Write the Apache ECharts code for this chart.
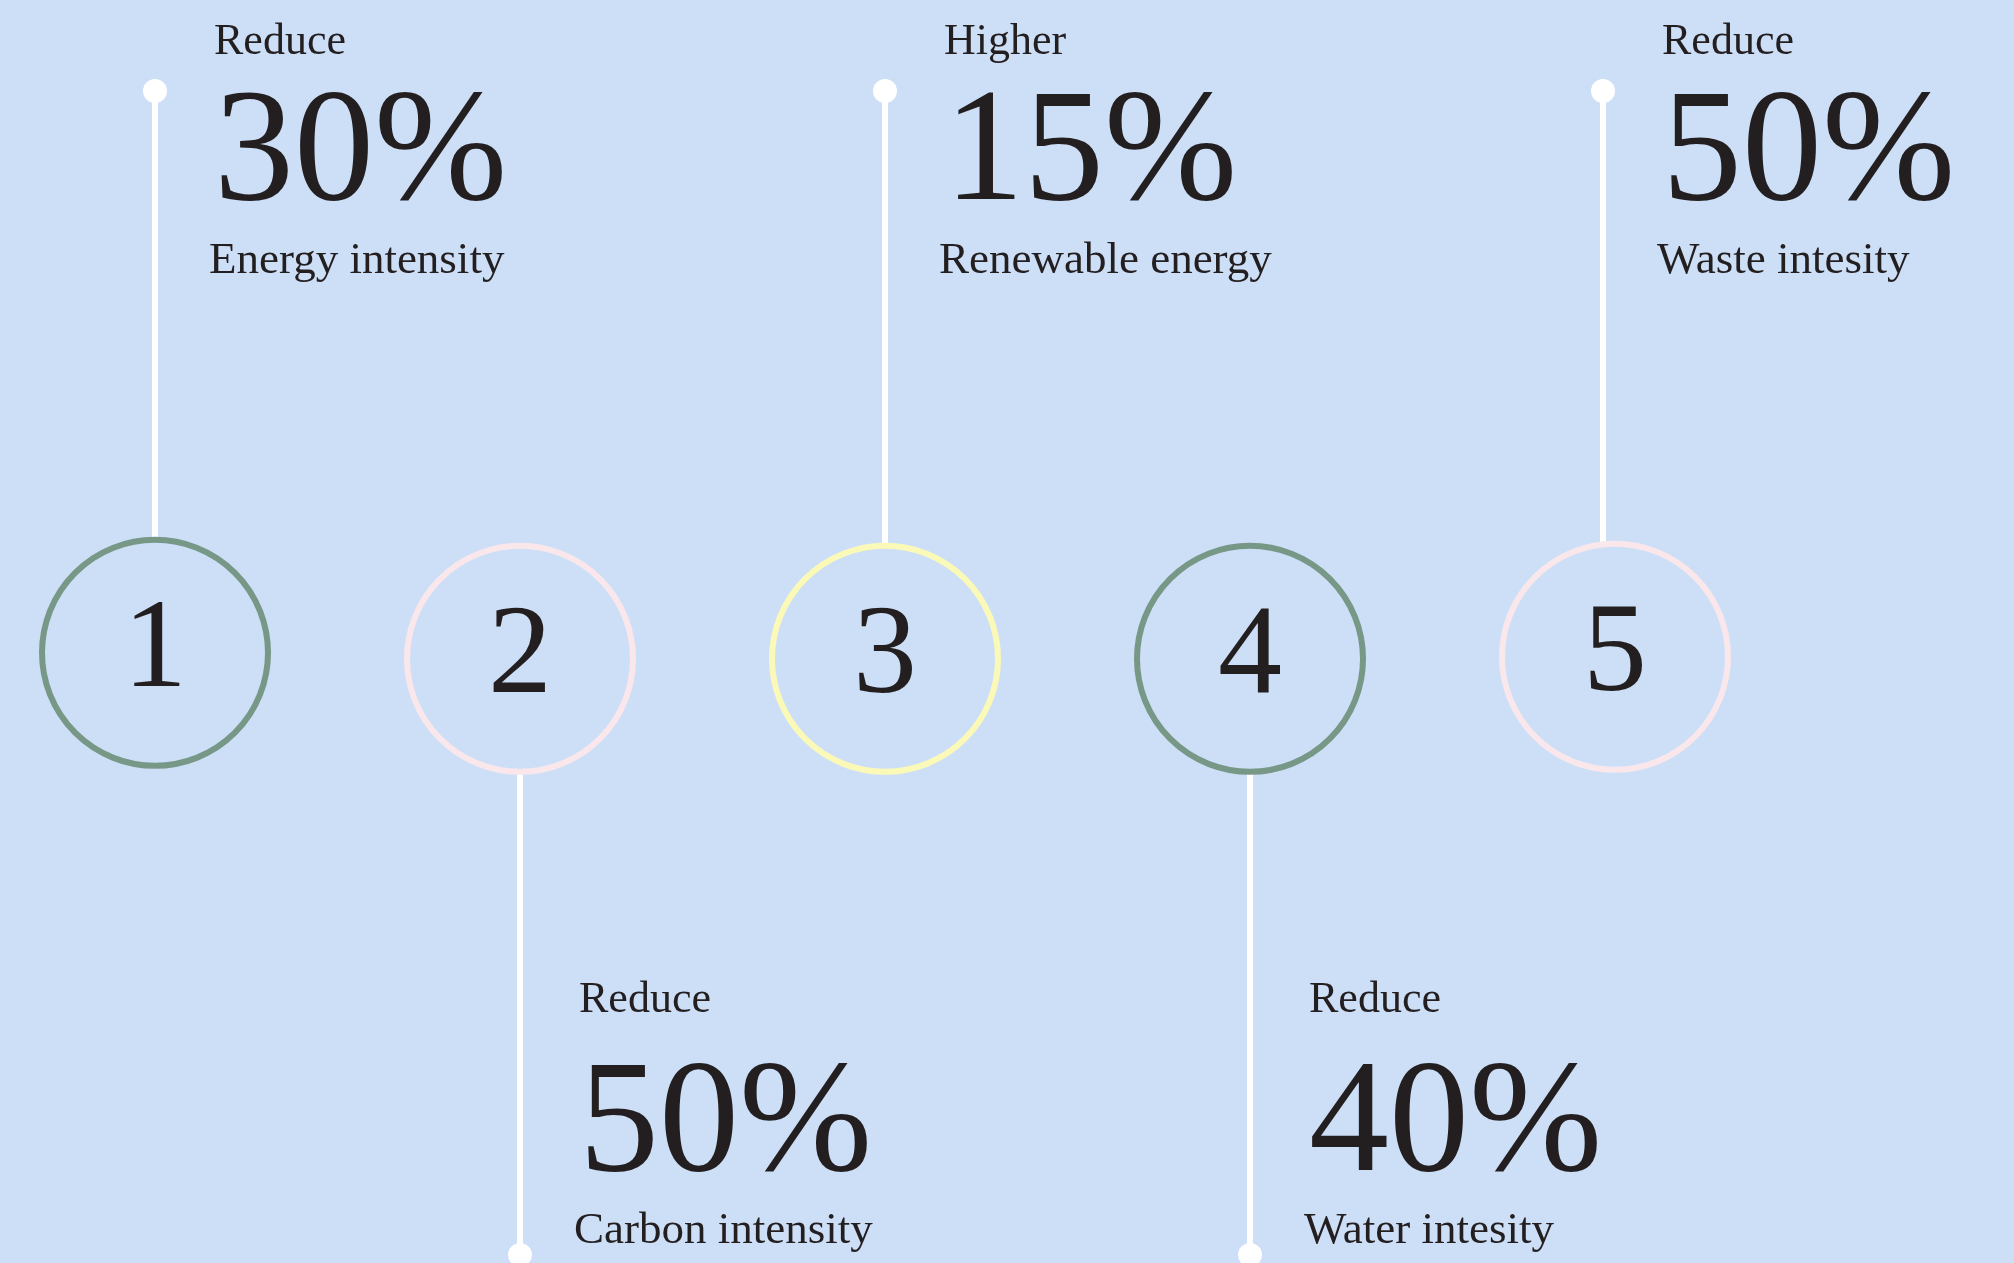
<!DOCTYPE html>
<html>
<head>
<meta charset="utf-8">
<script src="https://cdn.jsdelivr.net/npm/echarts@6/dist/echarts.min.js"></script>
<style>
html,body{margin:0;padding:0;background:#cddff7;}
#chart{width:2014px;height:1263px;}
</style>
</head>
<body>
<div id="chart"></div>
<script>
// ---- data ----
const steps = ['1', '2', '3', '4', '5'];
const verbs = ['Reduce', 'Reduce', 'Higher', 'Reduce', 'Reduce'];
const percents = [30, 50, 15, 40, 50];
const metrics = ['Energy intensity', 'Carbon intensity', 'Renewable energy', 'Water intesity', 'Waste intesity'];
const leadEnds = [1, -1.05, 1, -1.05, 1]; // +: lead line goes up, -: goes down
const ringColors = ['#779787', '#f9e7ec', '#fbf9b8', '#779787', '#f9e7ec'];

const seriesData = steps.map((s, i) => [i, 0, leadEnds[i]]);

const chart = echarts.init(document.getElementById('chart'), null, {renderer: 'canvas'});
const FONT = '"Liberation Serif", "DejaVu Serif", serif';
const INK = '#231e1f';
const R = 113;
// small visual nudges (style only)
const leadShift = [0, 0, 0, 0, -12];
const ringShiftY = [-6, 0, 0, 0, -2];

chart.setOption({
  backgroundColor: '#cddff7',
  animation: false,
  grid: {left: 155, right: 399, top: 91, bottom: 8},
  xAxis: {type: 'value', min: 0, max: 4, show: false},
  yAxis: {type: 'value', min: -1.05, max: 1, show: false},
  series: [{
    type: 'custom',
    clip: false,
    data: seriesData,
    renderItem: function (params, api) {
      const i = params.dataIndex;
      const c0 = api.coord([api.value(0), api.value(1)]);
      const c = [c0[0], c0[1] + ringShiftY[i]];
      const e0 = api.coord([api.value(0), api.value(2)]);
      const lx = e0[0] + leadShift[i];
      const e = [lx, e0[1]];
      const up = api.value(2) > 0;
      const edgeY = up ? c[1] - R - 1 : c[1] + R + 1;
      const tx = lx + 57;
      const children = [
        {type: 'line', shape: {x1: lx, y1: edgeY, x2: e[0], y2: e[1]},
         style: {stroke: '#ffffff', lineWidth: 6}},
        {type: 'circle', shape: {cx: e[0], cy: e[1], r: 12}, style: {fill: '#ffffff'}},
        {type: 'circle', shape: {cx: c[0], cy: c[1], r: R},
         style: {fill: 'none', stroke: ringColors[i], lineWidth: 6}},
        {type: 'text', x: c[0], y: c[1],
         style: {text: steps[i], fill: INK, font: '128px ' + FONT, align: 'center', verticalAlign: 'middle'}}
      ];
      const ys = up ? [e[1] - 49, e[1] + 66, e[1] + 170] : [e[1] - 255, e[1] - 127, e[1] - 24];
      children.push(
        {type: 'text', x: tx + 2, y: ys[0],
         style: {text: verbs[i], fill: INK, font: '44px ' + FONT, align: 'left', verticalAlign: 'middle'}},
        {type: 'text', x: tx + 2, y: ys[1],
         style: {text: percents[i] + '%', fill: INK, font: '160px ' + FONT, align: 'left', verticalAlign: 'middle'}},
        {type: 'text', x: tx - 3, y: ys[2],
         style: {text: metrics[i], fill: INK, font: '45px ' + FONT, align: 'left', verticalAlign: 'middle'}}
      );
      return {type: 'group', children: children};
    }
  }]
});
</script>
</body>
</html>
